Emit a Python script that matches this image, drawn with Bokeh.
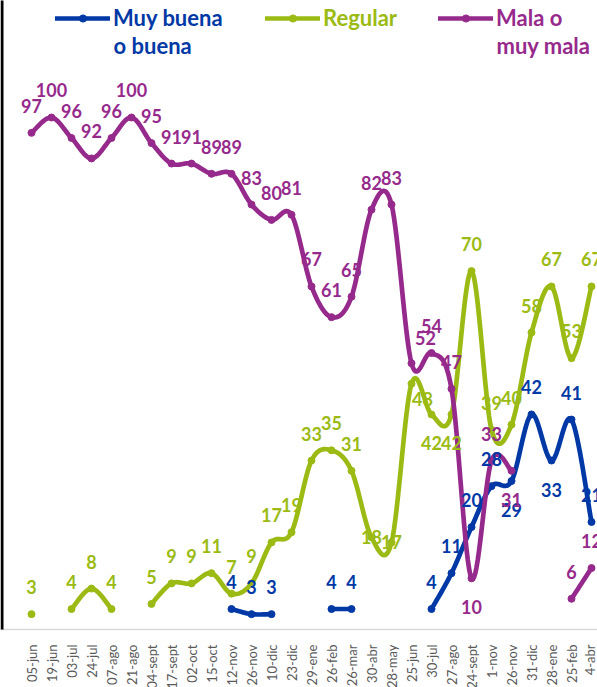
import math
import numpy as np
from bokeh.plotting import figure
from bokeh.models import (ColumnDataSource, Legend, LegendItem, Label, FixedTicker, Range1d,
                          BoxAnnotation)
from bokeh.core.properties import value
from bokeh.embed import file_html
from bokeh.resources import INLINE

categories = ["05-jun", "19-jun", "03-jul", "24-jul", "07-ago", "21-ago", "04-sept",
              "17-sept", "02-oct", "15-oct", "12-nov", "26-nov", "10-dic", "23-dic",
              "29-ene", "26-feb", "26-mar", "30-abr", "28-may", "25-jun", "30-jul",
              "27-ago", "24-sept", "1-nov", "26-nov", "31-dic", "28-ene", "25-feb", "4-abr"]

muy_buena = [None, None, None, None, None, None, None, None, None, None,
             4, 3, 3, None, None, 4, 4, None, None, None,
             4, 11, 20, 28, 29, 42, 33, 41, 21]
regular = [3, None, 4, 8, 4, None, 5, 9, 9, 11,
           7, 9, 17, 19, 33, 35, 31, 18, 17, 48,
           42, 42, 70, 39, 40, 58, 67, 53, 67]
mala = [97, 100, 96, 92, 96, 100, 95, 91, 91, 89,
        89, 83, 80, 81, 67, 61, 65, 82, 83, 52,
        54, 47, 10, 33, 31, None, None, 6, 12]

# label placement (default: above)
place_buena = {24: "below", 26: "below"}
place_regular = {17: "center", 18: "center", 19: "below_right", 20: "below", 21: "below"}
place_mala = {19: "above_right", 22: "below", 24: "below"}
OFFSETS = {"above": (0, -27), "below": (0, 29), "center": (0, 0),
           "below_right": (11, 15), "above_right": (14, -25)}

BLUE = "#0039A6"
GREEN = "#9BBB14"
MAGENTA = "#962A8C"
FONT = "Lato"


def smooth_path(vals, steps=16):
    segs, cur = [], []
    for i, v in enumerate(vals):
        if v is None:
            if cur:
                segs.append(cur)
                cur = []
        else:
            cur.append((float(i), float(v)))
    if cur:
        segs.append(cur)
    xs, ys = [], []
    for seg in segs:
        if len(seg) < 2:
            continue
        P = np.array(seg)
        n = len(P)
        for k in range(n - 1):
            p0 = P[k - 1] if k > 0 else P[k]
            p1, p2 = P[k], P[k + 1]
            p3 = P[k + 2] if k + 2 < n else P[k + 1]
            c1 = p1 + (p2 - p0) / 6.0
            c2 = p2 - (p3 - p1) / 6.0
            t = np.linspace(0, 1, steps + 1)
            if k < n - 2:
                t = t[:-1]
            b = ((1 - t) ** 3)[:, None] * p1 + (3 * (1 - t) ** 2 * t)[:, None] * c1 \
                + (3 * (1 - t) * t ** 2)[:, None] * c2 + (t ** 3)[:, None] * p2
            xs.extend(b[:, 0].tolist())
            ys.extend(b[:, 1].tolist())
        xs.append(float("nan"))
        ys.append(float("nan"))
    return xs, ys


def points(vals):
    idx = [i for i, v in enumerate(vals) if v is not None]
    return idx, [vals[i] for i in idx]


def label_source(vals, place):
    idx, v = points(vals)
    dx = [OFFSETS[place.get(i, "above")][0] for i in idx]
    dy = [OFFSETS[place.get(i, "above")][1] for i in idx]
    return ColumnDataSource(dict(x=idx, y=v, t=[str(a) for a in v], dx=dx, dy=dy))


FRAME_H = 629
p = figure(frame_width=597, frame_height=FRAME_H,
           x_range=Range1d(-1.55, 28.3), y_range=Range1d(0, 122.85),
           output_backend="svg", toolbar_location=None, y_axis_location=None,
           min_border_left=0, min_border_right=0, min_border_top=0, min_border_bottom=0)
p.outline_line_color = None
p.grid.grid_line_color = None
p.background_fill_color = "white"

# black frame edge on the left, as in the source image
p.add_layout(BoxAnnotation(left=0, right=3, top=FRAME_H + 5, bottom=-5,
                           left_units="screen", right_units="screen",
                           top_units="screen", bottom_units="screen",
                           fill_color="black", fill_alpha=1, line_color=None))

series = [("Muy buena", "o buena", muy_buena, place_buena, BLUE, 55, 113),
          ("Regular", None, regular, place_regular, GREEN, 265, None),
          ("Mala o", "muy mala", mala, place_mala, MAGENTA, 438, 496)]

renderers = []
for name, second, vals, place, col, lx, sx in series:
    xs, ys = smooth_path(vals)
    rl = p.line(xs, ys, line_color=col, line_width=4.7, line_cap="round", line_join="round")
    idx, v = points(vals)
    rs = p.scatter(idx, v, size=7, fill_color=col, line_color=col)
    renderers.append((rl, rs))

for (name, second, vals, place, col, lx, sx), (rl, rs) in zip(series, renderers):
    src = label_source(vals, place)
    p.text(x="x", y="y", text="t", x_offset="dx", y_offset="dy", source=src,
           text_font=value(FONT), text_font_style="bold", text_font_size="18px",
           text_color=col, text_align="center", text_baseline="middle")
    leg = Legend(items=[LegendItem(label=name, renderers=[rl, rs])],
                 location=(lx, FRAME_H - 31), orientation="horizontal",
                 padding=0, margin=0, spacing=0, glyph_width=55, glyph_height=18,
                 label_height=18, label_standoff=3,
                 label_text_font=FONT, label_text_font_style="bold",
                 label_text_font_size="22px", label_text_color=col,
                 background_fill_alpha=0, border_line_alpha=0)
    p.add_layout(leg, "center")
    if second:
        p.add_layout(Label(x=sx, y=FRAME_H - 45, x_units="screen", y_units="screen",
                           text=second, text_font=FONT, text_font_style="bold",
                           text_font_size="22px", text_color=col,
                           text_align="left", text_baseline="middle"))

ax = p.xaxis[0]
ax.ticker = FixedTicker(ticks=list(range(len(categories))))
ax.major_label_overrides = {i: c for i, c in enumerate(categories)}
ax.major_label_orientation = math.pi / 2
ax.major_label_text_font = FONT
ax.major_label_text_font_size = "13px"
ax.major_label_text_color = "#595959"
ax.major_label_standoff = 9
ax.axis_line_color = "#D9D9D9"
ax.axis_line_width = 1.5
ax.major_tick_line_color = None
ax.minor_tick_line_color = None

open("out.html", "w").write(file_html(p, INLINE))
